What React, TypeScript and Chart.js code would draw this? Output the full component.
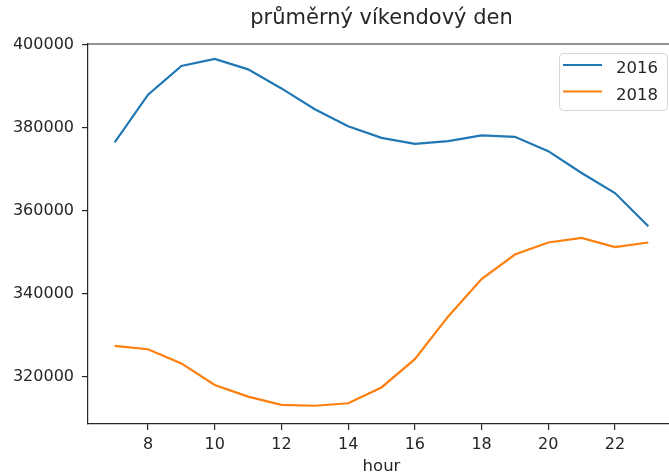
import React, { useEffect, useRef } from "react";
import { Chart, registerables } from "chart.js";

Chart.register(...registerables);

const hours = [7, 8, 9, 10, 11, 12, 13, 14, 15, 16, 17, 18, 19, 20, 21, 22, 23];
const series2016 = [376400, 387900, 394800, 396500, 394000, 389400, 384400, 380300, 377500, 376050, 376700, 378100, 377750, 374300, 369050, 364200, 356200];
const series2018 = [327400, 326600, 323200, 318000, 315200, 313200, 313000, 313600, 317400, 324200, 334500, 343500, 349400, 352300, 353400, 351200, 352300];
const seriesNames = ["2016", "2018"];
const seriesColors = ["#1f77b4", "#ff7f0e"];
const xTicks = [8, 10, 12, 14, 16, 18, 20, 22];
const yTicks = [320000, 340000, 360000, 380000, 400000];
const titleText = "průměrný víkendový den";
const xLabelText = "hour";

const FONT = "'DejaVu Sans', sans-serif";
const TEXT = "#262626";

export default function App() {
  const ref = useRef<HTMLCanvasElement | null>(null);

  useEffect(() => {
    document.body.style.margin = "0";
    document.body.style.overflow = "hidden";
    const canvas = ref.current;
    if (!canvas) return;

    const decor = {
      id: "decor",
      afterDraw(chart: any) {
        const ctx = chart.ctx;
        const a = chart.chartArea;
        ctx.save();
        // top + right spines
        ctx.strokeStyle = TEXT;
        ctx.lineWidth = 1.2;
        ctx.beginPath();
        ctx.moveTo(a.left, a.top);
        ctx.lineTo(a.right, a.top);
        ctx.lineTo(a.right, a.bottom);
        ctx.stroke();
        // title
        const cx = (a.left + a.right) / 2;
        ctx.fillStyle = TEXT;
        ctx.font = `21px ${FONT}`;
        ctx.textAlign = "center";
        ctx.textBaseline = "alphabetic";
        ctx.fillText(titleText, cx, 24);
        // x label
        ctx.font = `16.5px ${FONT}`;
        ctx.fillText(xLabelText, cx, 471);
        // legend
        const lx = a.right - 8 - 108;
        const ly = a.top + 9;
        const lw = 108;
        const lh = 57;
        ctx.beginPath();
        (ctx as any).roundRect(lx + 0.5, ly + 0.5, lw, lh, 4);
        ctx.fillStyle = "rgba(255,255,255,0.8)";
        ctx.fill();
        ctx.strokeStyle = "#d6d6d6";
        ctx.lineWidth = 1;
        ctx.stroke();
        ctx.font = `16.5px ${FONT}`;
        ctx.textAlign = "left";
        seriesNames.forEach((name, i) => {
          const y = ly + 12 + i * 26.5;
          ctx.strokeStyle = seriesColors[i];
          ctx.lineWidth = 2.2;
          ctx.beginPath();
          ctx.moveTo(lx + 4, y);
          ctx.lineTo(lx + 43, y);
          ctx.stroke();
          ctx.fillStyle = TEXT;
          ctx.fillText(name, lx + 57, y + 8);
        });
        ctx.restore();
      },
    };

    const chart = new Chart(canvas, {
      type: "line",
      data: {
        datasets: [
          {
            label: seriesNames[0],
            data: hours.map((h, i) => ({ x: h, y: series2016[i] })),
            borderColor: seriesColors[0],
            borderWidth: 2.2,
            pointRadius: 0,
            tension: 0,
          },
          {
            label: seriesNames[1],
            data: hours.map((h, i) => ({ x: h, y: series2018[i] })),
            borderColor: seriesColors[1],
            borderWidth: 2.2,
            pointRadius: 0,
            tension: 0,
          },
        ],
      },
      options: {
        responsive: false,
        animation: false,
        devicePixelRatio: 1,
        layout: { padding: { left: 0, right: 1, top: 44, bottom: 0 } },
        plugins: {
          legend: { display: false },
          title: { display: false },
          tooltip: { enabled: false },
        },
        scales: {
          x: {
            type: "linear",
            min: 6.2,
            max: 23.8,
            afterBuildTicks: (s: any) => {
              s.ticks = xTicks.map((v) => ({ value: v }));
            },
            afterFit: (s: any) => {
              s.height = 50;
            },
            grid: {
              drawOnChartArea: false,
              drawTicks: true,
              tickLength: 6,
              color: TEXT,
              lineWidth: 1.2,
            },
            border: { display: true, color: TEXT, width: 1.2 },
            ticks: {
              padding: 5,
              maxRotation: 0,
              color: TEXT,
              font: { family: FONT, size: 16 },
              callback: (v: any) => String(v),
            },
          },
          y: {
            type: "linear",
            min: 308600,
            max: 400100,
            afterBuildTicks: (s: any) => {
              s.ticks = yTicks.map((v) => ({ value: v }));
            },
            afterFit: (s: any) => {
              s.width = 88;
            },
            grid: {
              drawOnChartArea: false,
              drawTicks: true,
              tickLength: 6,
              color: TEXT,
              lineWidth: 1.2,
            },
            border: { display: true, color: TEXT, width: 1.2 },
            ticks: {
              padding: 8,
              color: TEXT,
              font: { family: FONT, size: 16 },
              callback: (v: any) => String(v),
            },
          },
        },
      },
      plugins: [decor],
    });

    return () => chart.destroy();
  }, []);

  return (
    <div style={{ width: 669, height: 474, overflow: "hidden", background: "#fff" }}>
      <canvas ref={ref} width={676} height={474} style={{ display: "block", width: 676, height: 474 }} />
    </div>
  );
}
